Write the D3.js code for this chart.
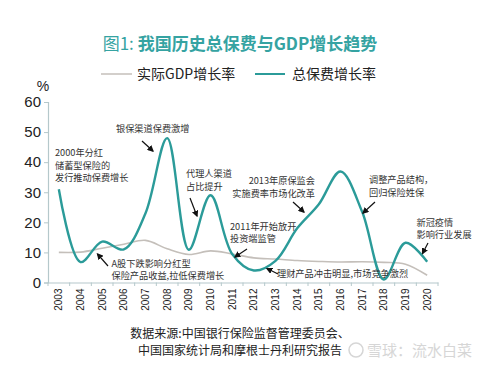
<!DOCTYPE html>
<html><head><meta charset="utf-8">
<script src="https://cdn.jsdelivr.net/npm/d3@7"></script>
<style>
html,body{margin:0;padding:0;background:#fff;}
svg{display:block;font-family:"Noto Sans CJK SC","Liberation Sans",sans-serif;}
</style></head>
<body><svg id="c" width="480" height="371"></svg>
<script>
const years = ["2003","2004","2005","2006","2007","2008","2009","2010","2011","2012","2013","2014","2015","2016","2017","2018","2019","2020"];
const premiumGrowth = [31, 6.8, 13.6, 11.0, 23, 48, 10.9, 29, 9.5, 4.0, 7.2, 18, 26, 36.9, 23.5, 1.0, 13.2, 6.9];
const gdpGrowth = [10.0, 10.1, 11.4, 12.7, 14.0, 11.2, 9.3, 10.5, 9.5, 8.2, 7.8, 7.3, 7.0, 6.8, 6.9, 6.7, 6.1, 2.4];
const yTicks = [0, 10, 20, 30, 40, 50, 60];
const seriesNames = ["实际GDP增长率", "总保费增长率"];
const annotations = [
  {lines:["2000年分红","储蓄型保险的","发行推动保费增长"], x:55, y:153, anchor:"start", arrow:null},
  {lines:["银保渠道保费激增"], x:116, y:129, anchor:"start", arrow:[142,141,153,151]},
  {lines:["代理人渠道","占比提升"], x:186, y:174, anchor:"start", arrow:[190,198,197,216]},
  {lines:["2011年开始放开","投资端监管"], x:230, y:226.5, anchor:"start", arrow:[247,249,235,257]},
  {lines:["2013年原保监会","实施费率市场化改革"], x:315, y:181, anchor:"end", arrow:[293,202,304,212]},
  {lines:["调整产品结构，","回归保险姓保"], x:369, y:180, anchor:"start", arrow:[375,202,363,213]},
  {lines:["新冠疫情","影响行业发展"], x:416.5, y:222.5, anchor:"start", arrow:[428,243,422.5,253.5]},
  {lines:["A股下跌影响分红型","保险产品收益,拉低保费增长"], x:111.5, y:263.5, anchor:"start", arrow:[108,266,97.5,254]},
  {lines:["理财产品冲击明显,市场竞争激烈"], x:277, y:273.5, anchor:"start", arrow:[278,274,267,268.5]}
];

const svg = d3.select("#c");
const teal = "#2b9b99", gray = "#c4bfba", axisCol = "#b5c8cb";
const mLeft = 48, mRight = 438, mTop = 102, mBottom = 282.5;

const x = d3.scaleBand().domain(years).range([mLeft, mRight]);
const y = d3.scaleLinear().domain([0, 60]).range([mBottom, mTop]);

svg.append("defs").append("marker").attr("id","ah").attr("viewBox","0 0 10 10")
  .attr("refX",8).attr("refY",5).attr("markerWidth",5.5).attr("markerHeight",5.5)
  .attr("orient","auto").append("path").attr("d","M0,0L10,5L0,10z").attr("fill","#111");

const t = svg.append("text").attr("x",240).attr("y",50).attr("text-anchor","middle")
  .attr("fill","#35a3a2").attr("font-size",17);
t.append("tspan").attr("font-weight",400).text("图1: ");
t.append("tspan").attr("font-weight",700).text("我国历史总保费与GDP增长趋势");

const lg = svg.append("g");
lg.append("line").attr("x1",101).attr("x2",132).attr("y1",74).attr("y2",74).attr("stroke",gray).attr("stroke-width",1.5);
lg.append("text").attr("x",137).attr("y",79).attr("font-size",14).attr("fill","#222").text(seriesNames[0]);
lg.append("line").attr("x1",255).attr("x2",285).attr("y1",74).attr("y2",74).attr("stroke",teal).attr("stroke-width",2);
lg.append("text").attr("x",292).attr("y",79).attr("font-size",14).attr("fill","#222").text(seriesNames[1]);

svg.append("text").attr("x",43).attr("y",91).attr("text-anchor","middle").attr("font-size",14)
  .attr("font-family","Liberation Sans, Arial, sans-serif").attr("fill","#222").text("%");

const ya = svg.append("g").attr("transform",`translate(${mLeft},0)`)
  .call(d3.axisLeft(y).tickValues(yTicks).tickSize(4).tickPadding(3));
ya.select(".domain").attr("stroke",axisCol).attr("stroke-width",1.2);
ya.selectAll(".tick line").attr("stroke",axisCol);
ya.selectAll(".tick text").attr("font-size",15).attr("fill","#222")
  .attr("font-family","Liberation Sans, Arial, sans-serif");

const xa = svg.append("g").attr("transform",`translate(0,${mBottom})`)
  .call(d3.axisBottom(x).tickSize(0).tickPadding(0));
xa.select(".domain").attr("stroke",axisCol).attr("stroke-width",1.2);
xa.selectAll(".tick text").attr("font-size",10).attr("fill","#222")
  .attr("font-family","Liberation Sans, Arial, sans-serif")
  .attr("transform","rotate(-90)").attr("text-anchor","end").attr("dy","0.35em").attr("x",-6).attr("y",0);
xa.selectAll("line.bt").data(years.concat(["end"])).enter().append("line").attr("class","bt")
  .attr("x1",(d,i)=> i<years.length ? x(d) : x(years[years.length-1])+x.bandwidth())
  .attr("x2",(d,i)=> i<years.length ? x(d) : x(years[years.length-1])+x.bandwidth())
  .attr("y1",0).attr("y2",3.5).attr("stroke",axisCol);

const cx = d => x(d) + x.bandwidth()/2;
const lineGen = d3.line().x((d,i)=>cx(years[i])).y(d=>y(d)).curve(d3.curveCatmullRom.alpha(0.5));
svg.append("path").datum(gdpGrowth).attr("d",lineGen).attr("fill","none").attr("stroke",gray).attr("stroke-width",1.6);
svg.append("path").datum(premiumGrowth).attr("d",lineGen).attr("fill","none").attr("stroke",teal).attr("stroke-width",2.4);

const ag = svg.append("g").attr("font-size",9.2).attr("fill","#333");
annotations.forEach(a=>{
  const tx = ag.append("text").attr("text-anchor",a.anchor);
  a.lines.forEach((l,i)=>{
    tx.append("tspan").attr("x",a.x).attr("y",a.y + i*12.5 + 3.3).text(l);
  });
  if(a.arrow){
    ag.append("line").attr("x1",a.arrow[0]).attr("y1",a.arrow[1]).attr("x2",a.arrow[2]).attr("y2",a.arrow[3])
      .attr("stroke","#111").attr("stroke-width",1.2).attr("marker-end","url(#ah)");
  }
});

svg.append("text").attr("x",240).attr("y",338).attr("text-anchor","middle").attr("font-size",12).attr("fill","#222")
  .text("数据来源:中国银行保险监督管理委员会、");
svg.append("text").attr("x",240).attr("y",355).attr("text-anchor","middle").attr("font-size",12).attr("fill","#222")
  .text("中国国家统计局和摩根士丹利研究报告");

const wm = svg.append("g").attr("opacity",0.85);
wm.append("circle").attr("cx",356).attr("cy",350).attr("r",7).attr("fill","none").attr("stroke","#cfcfcf").attr("stroke-width",1.5);
wm.append("text").attr("x",367).attr("y",355.5).attr("font-size",15).attr("fill","#d0d0d0").text("雪球：流水白菜");
</script></body></html>
